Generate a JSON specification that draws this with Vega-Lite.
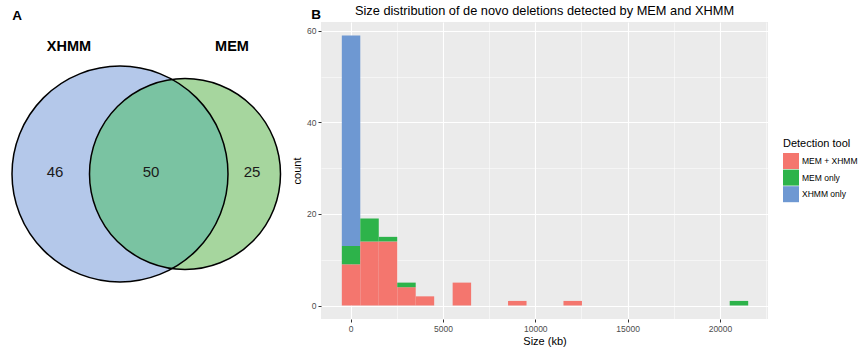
{
  "$schema": "https://vega.github.io/schema/vega-lite/v6.json",
  "background": "white",
  "padding": 5,
  "bounds": "flush",
  "spacing": 41,
  "config": {
    "font": "Liberation Sans",
    "axis": {
      "labelFont": "Liberation Sans",
      "labelFontSize": 8.5,
      "labelColor": "#4D4D4D",
      "tickColor": "#333333",
      "tickSize": 3,
      "labelPadding": 2,
      "domain": false,
      "gridColor": "#FFFFFF",
      "gridWidth": 1.1,
      "titleFont": "Liberation Sans",
      "titleFontSize": 11,
      "titleFontWeight": "normal",
      "titleColor": "#000000"
    },
    "legend": {
      "titleFont": "Liberation Sans",
      "labelFont": "Liberation Sans"
    }
  },
  "resolve": {"scale": {"color": "independent"}, "legend": {"color": "independent"}},
  "datasets": {
    "sets": [
      {"set": "XHMM", "cx": 11.5, "cy": 15.2, "total": 96},
      {"set": "MEM", "cx": 18.0, "cy": 15.2, "total": 75}
    ],
    "regions": [
      {"label": "46", "x": 5.0, "y": 15.0},
      {"label": "50", "x": 14.6, "y": 15.0},
      {"label": "25", "x": 24.7, "y": 15.0}
    ],
    "setnames": [
      {"label": "XHMM", "x": 6.4, "y": 2.5},
      {"label": "MEM", "x": 22.7, "y": 2.5}
    ],
    "panels": [
      {"label": "A", "x": 1.2, "y": -0.6},
      {"label": "B", "x": 31.1, "y": -0.7}
    ],
    "hist": [
      {"tool": "MEM + XHMM", "start": -500, "end": 500, "count": 9},
      {"tool": "MEM only", "start": -500, "end": 500, "count": 4},
      {"tool": "XHMM only", "start": -500, "end": 500, "count": 46},
      {"tool": "MEM + XHMM", "start": 500, "end": 1500, "count": 14},
      {"tool": "MEM only", "start": 500, "end": 1500, "count": 5},
      {"tool": "MEM + XHMM", "start": 1500, "end": 2500, "count": 14},
      {"tool": "MEM only", "start": 1500, "end": 2500, "count": 1},
      {"tool": "MEM + XHMM", "start": 2500, "end": 3500, "count": 4},
      {"tool": "MEM only", "start": 2500, "end": 3500, "count": 1},
      {"tool": "MEM + XHMM", "start": 3500, "end": 4500, "count": 2},
      {"tool": "MEM + XHMM", "start": 5500, "end": 6500, "count": 5},
      {"tool": "MEM + XHMM", "start": 8500, "end": 9500, "count": 1},
      {"tool": "MEM + XHMM", "start": 11500, "end": 12500, "count": 1},
      {"tool": "MEM only", "start": 20500, "end": 21500, "count": 1}
    ]
  },
  "hconcat": [
    {
      "width": 275,
      "height": 297,
      "view": {"stroke": null},
      "layer": [
        {
          "data": {"name": "sets"},
          "transform": [{"filter": "datum.set === 'XHMM'"}],
          "mark": {"type": "point", "shape": "circle", "filled": true, "opacity": 1, "fill": "#B4C8EA", "strokeWidth": 0, "size": 46656},
          "encoding": {
            "x": {"field": "cx", "type": "quantitative", "scale": {"domain": [0, 27.5], "nice": false, "zero": false}, "axis": null},
            "y": {"field": "cy", "type": "quantitative", "scale": {"domain": [0, 29.7], "nice": false, "zero": false, "reverse": true}, "axis": null}
          }
        },
        {
          "data": {"name": "sets"},
          "transform": [{"filter": "datum.set === 'MEM'"}],
          "mark": {"type": "point", "shape": "circle", "filled": true, "opacity": 1, "fill": "#A6D69E", "strokeWidth": 0, "size": 36481},
          "encoding": {
            "x": {"field": "cx", "type": "quantitative"},
            "y": {"field": "cy", "type": "quantitative"}
          }
        },
        {
          "data": {"values": [{"region": "XHMM and MEM", "x": 16.78, "y": 15.2}]},
          "mark": {"type": "point", "shape": "M0,0.942L-0.043,0.936L-0.203,0.893L-0.353,0.823L-0.489,0.728L-0.606,0.611L-0.701,0.475L-0.771,0.325L-0.814,0.165L-0.828,0L-0.814,-0.165L-0.771,-0.325L-0.701,-0.475L-0.606,-0.611L-0.489,-0.728L-0.353,-0.823L-0.203,-0.893L-0.043,-0.936L0,-0.942L0.166,-0.827L0.299,-0.694L0.407,-0.54L0.487,-0.369L0.536,-0.188L0.552,0L0.536,0.188L0.487,0.369L0.407,0.54L0.299,0.694L0.166,0.827Z", "filled": true, "opacity": 1, "fill": "#7AC3A2", "strokeWidth": 0, "size": 40000},
          "encoding": {
            "x": {"field": "x", "type": "quantitative"},
            "y": {"field": "y", "type": "quantitative"}
          }
        },
        {
          "data": {"name": "sets"},
          "transform": [{"filter": "datum.set === 'XHMM'"}],
          "mark": {"type": "point", "shape": "circle", "filled": false, "stroke": "#000000", "strokeWidth": 1.5, "opacity": 1, "size": 46656},
          "encoding": {
            "x": {"field": "cx", "type": "quantitative"},
            "y": {"field": "cy", "type": "quantitative"}
          }
        },
        {
          "data": {"name": "sets"},
          "transform": [{"filter": "datum.set === 'MEM'"}],
          "mark": {"type": "point", "shape": "circle", "filled": false, "stroke": "#000000", "strokeWidth": 1.5, "opacity": 1, "size": 36481},
          "encoding": {
            "x": {"field": "cx", "type": "quantitative"},
            "y": {"field": "cy", "type": "quantitative"}
          }
        },
        {
          "data": {"name": "regions"},
          "mark": {"type": "text", "fontSize": 15, "font": "Liberation Sans", "color": "#1A1A1A", "baseline": "middle", "align": "center"},
          "encoding": {
            "x": {"field": "x", "type": "quantitative"},
            "y": {"field": "y", "type": "quantitative"},
            "text": {"field": "label"}
          }
        },
        {
          "data": {"name": "setnames"},
          "mark": {"type": "text", "fontSize": 14.5, "fontWeight": "bold", "font": "Liberation Sans", "color": "#000000", "baseline": "middle", "align": "center"},
          "encoding": {
            "x": {"field": "x", "type": "quantitative"},
            "y": {"field": "y", "type": "quantitative"},
            "text": {"field": "label"}
          }
        },
        {
          "data": {"name": "panels"},
          "mark": {"type": "text", "fontSize": 13.5, "fontWeight": "bold", "font": "Liberation Sans", "color": "#000000", "baseline": "middle", "align": "center"},
          "encoding": {
            "x": {"field": "x", "type": "quantitative"},
            "y": {"field": "y", "type": "quantitative"},
            "text": {"field": "label"}
          }
        }
      ]
    },
    {
      "width": 447,
      "height": 297,
      "view": {"fill": "#EBEBEB", "stroke": null},
      "title": {"text": "Size distribution of de novo deletions detected by MEM and XHMM", "font": "Liberation Sans", "fontSize": 12.8, "fontWeight": "normal", "color": "#000000", "anchor": "middle", "frame": "group", "offset": 4},
      "data": {"name": "hist"},
      "layer": [
        {
          "mark": {"type": "point", "opacity": 0},
          "encoding": {
            "x": {"field": "start", "type": "quantitative", "scale": {"domain": [-1600, 22600], "nice": false, "zero": false},
              "axis": {"orient": "top", "values": [2500, 7500, 12500, 17500, 22500], "labels": false, "ticks": false, "domain": false, "title": null, "grid": true, "gridWidth": 0.5}},
            "y": {"field": "count", "type": "quantitative", "scale": {"domain": [-2.95, 61.95], "nice": false, "zero": false},
              "axis": {"orient": "right", "values": [10, 30, 50], "labels": false, "ticks": false, "domain": false, "title": null, "grid": true, "gridWidth": 0.5}}
          }
        },
        {
          "mark": {"type": "bar", "binSpacing": 0, "strokeWidth": 0},
          "encoding": {
            "x": {"field": "start", "type": "quantitative", "bin": {"binned": true}, "scale": {"domain": [-1600, 22600], "nice": false, "zero": false},
              "axis": {"orient": "bottom", "values": [0, 5000, 10000, 15000, 20000], "format": "d", "title": "Size (kb)", "grid": true, "titlePadding": 3}},
            "x2": {"field": "end"},
            "y": {"field": "count", "type": "quantitative", "stack": "zero", "scale": {"domain": [-2.95, 61.95], "nice": false, "zero": false},
              "axis": {"orient": "left", "values": [0, 20, 40, 60], "title": "count", "grid": true, "titlePadding": 4}},
            "color": {"field": "tool", "type": "nominal", "title": "Detection tool",
              "scale": {"domain": ["MEM + XHMM", "MEM only", "XHMM only"], "range": ["#F4766E", "#2DB34A", "#6E98D2"]},
              "legend": {"orient": "none", "legendX": 462, "legendY": 116, "symbolType": "square", "symbolSize": 256, "symbolStrokeWidth": 0, "symbolOpacity": 1, "rowPadding": 0.6, "labelFontSize": 8.5, "labelColor": "#000000", "labelOffset": 3, "titleFontSize": 11, "titleFontWeight": "normal", "titleColor": "#000000", "titlePadding": 4}},
            "order": {"field": "tool", "type": "nominal", "sort": "ascending"}
          }
        }
      ],
      "resolve": {"axis": {"x": "independent", "y": "independent"}}
    }
  ]
}
